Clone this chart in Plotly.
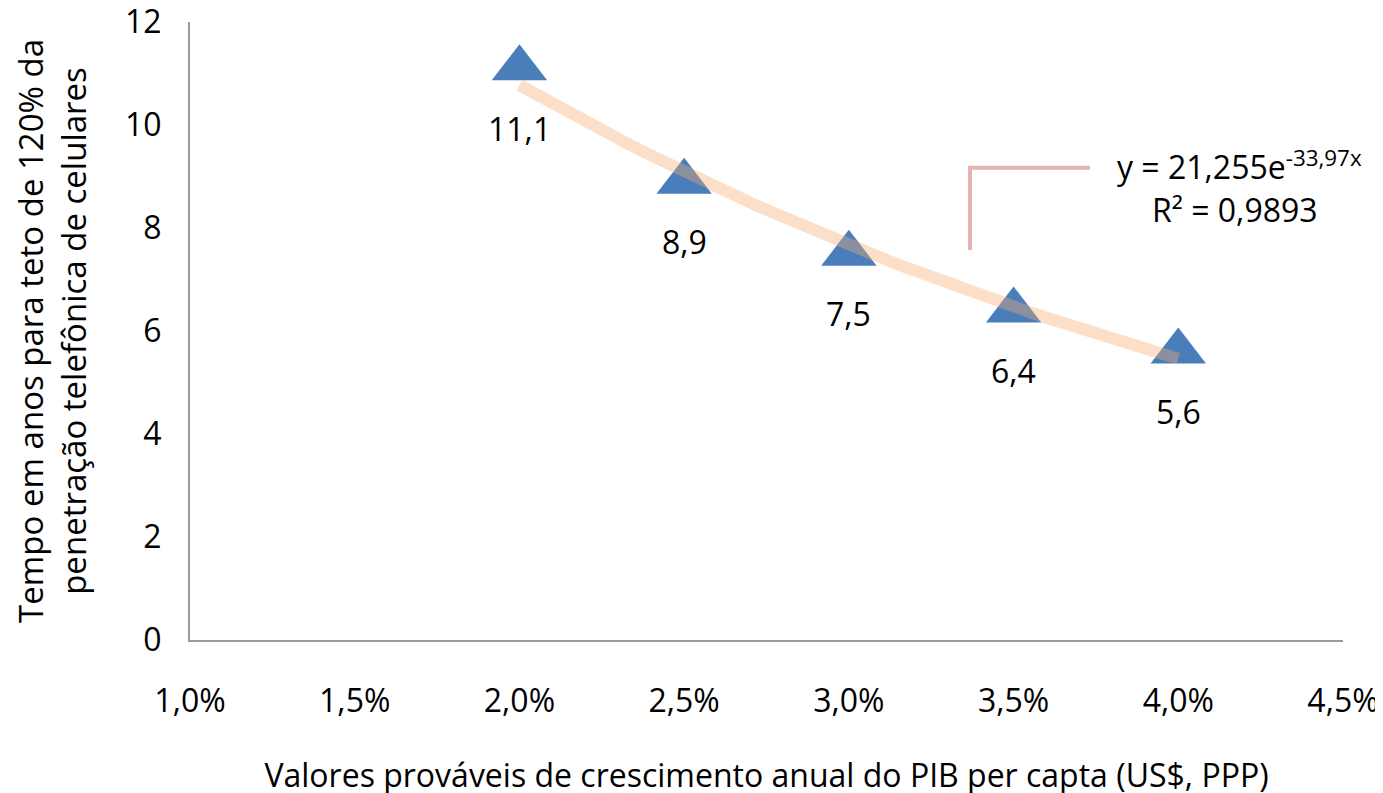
import numpy as np
import plotly.graph_objects as go

# Data
growth = [0.020, 0.025, 0.030, 0.035, 0.040]
years = [11.1, 8.9, 7.5, 6.4, 5.6]
fit_a = 21.255
fit_b = -33.97
r2 = 0.9893

x_ticks = [0.010, 0.015, 0.020, 0.025, 0.030, 0.035, 0.040, 0.045]
y_ticks = [0, 2, 4, 6, 8, 10, 12]

FONT = "Open Sans"
FS = 32

trend_x = np.linspace(min(growth), max(growth), 60)
trend_y = fit_a * np.exp(fit_b * trend_x)

fig = go.Figure()
fig.add_trace(go.Scatter(
    x=growth, y=years, mode="markers",
    marker=dict(symbol="triangle-up", size=48, color="#4a7ebb", line=dict(width=0)),
    showlegend=False, hoverinfo="skip"))
fig.add_trace(go.Scatter(
    x=trend_x, y=trend_y, mode="lines",
    line=dict(color="rgba(248,170,110,0.38)", width=12),
    showlegend=False, hoverinfo="skip"))

for xv, yv in zip(growth, years):
    fig.add_annotation(x=xv, y=yv, text=f"{yv:.1f}".replace(".", ","),
                       showarrow=False, yshift=-60,
                       font=dict(family=FONT, size=FS, color="#000000"))

# leader line of the equation label
fig.add_shape(type="path", xref="paper", yref="paper",
              path="M 0.6765 0.631 L 0.6765 0.764 L 0.7806 0.764",
              line=dict(color="#e6b3b3", width=4))

fig.add_annotation(xref="paper", yref="paper", x=0.91, y=0.768,
                   xanchor="center", yanchor="middle",
                   text="y = 21,255e<sup>-33,97x</sup>", showarrow=False,
                   font=dict(family=FONT, size=FS, color="#000000"))
fig.add_annotation(xref="paper", yref="paper", x=0.906, y=0.696,
                   xanchor="center", yanchor="middle",
                   text="R² = " + f"{r2}".replace(".", ","), showarrow=False,
                   font=dict(family=FONT, size=FS, color="#000000"))

fig.update_layout(
    width=1383, height=793,
    margin=dict(l=182, r=48, t=14, b=161),
    paper_bgcolor="white", plot_bgcolor="white",
    separators=",.",
    font=dict(family=FONT, size=FS, color="#000000"),
    xaxis=dict(range=[0.010, 0.045], tickvals=x_ticks, tickformat=".1%",
               showgrid=False, zeroline=False, showline=True,
               linecolor="#9a9a9a", linewidth=2, ticks="",
               ticklabelstandoff=32, automargin=False,
               ticklabeloverflow="allow",
               tickfont=dict(family=FONT, size=FS),
               title=dict(text="Valores prováveis de crescimento anual do PIB per capta (US$, PPP)",
                          font=dict(family=FONT, size=FS), standoff=44)),
    yaxis=dict(range=[0, 12], tickvals=y_ticks,
               showgrid=False, zeroline=False, showline=True,
               linecolor="#9a9a9a", linewidth=2, ticks="",
               ticklabelstandoff=20, automargin=False,
               ticklabeloverflow="allow",
               tickfont=dict(family=FONT, size=FS),
               title=dict(text="Tempo em anos para teto de 120% da<br>penetração telefônica de celulares",
                          font=dict(family=FONT, size=33), standoff=42)),
)

fig.write_html("out.html")
